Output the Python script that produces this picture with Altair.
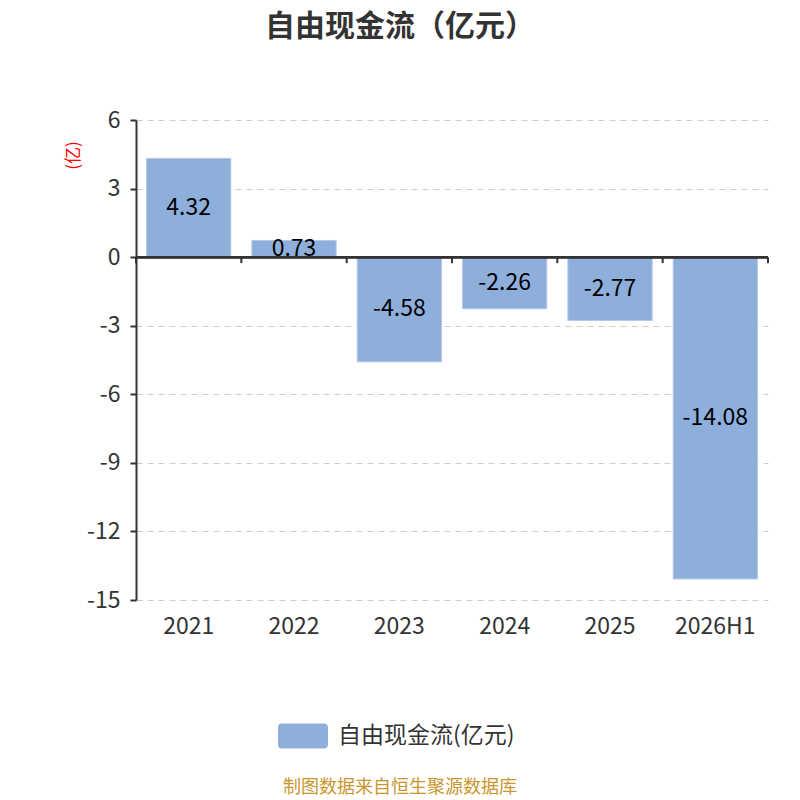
import altair as alt
import pandas as pd

categories = ["2021", "2022", "2023", "2024", "2025", "2026H1"]
values = [4.32, 0.73, -4.58, -2.26, -2.77, -14.08]
series_name = "自由现金流(亿元)"
y_ticks = [-15, -12, -9, -6, -3, 0, 3, 6]
title_text = "自由现金流（亿元）"
footer_text = "制图数据来自恒生聚源数据库"

FONT = "Noto Sans CJK SC"
BAR = "#8eaedb"

df = pd.DataFrame({"cat": categories, "value": values, "series": [series_name] * len(categories)})

xscale = alt.Scale(domain=categories, paddingInner=0, paddingOuter=0)
yscale = alt.Scale(domain=[-15, 6], nice=False, zero=False)

base = alt.Chart(df)

rounded_rect = ("M-0.84,-0.5 H0.84 Q1,-0.5 1,-0.34 V0.34 Q1,0.5 0.84,0.5 "
                "H-0.84 Q-1,0.5 -1,0.34 V-0.34 Q-1,-0.5 -0.84,-0.5 Z")

bars = base.mark_bar(width=alt.RelativeBandSize(0.8), stroke="#b3c8e8", strokeWidth=1).encode(
    x=alt.X("cat:N", scale=xscale, sort=categories, title=None,
            axis=alt.Axis(domain=False, ticks=False, labelAngle=0, labelFontSize=23,
                          labelColor="#333333", labelFont=FONT, labelPadding=15)),
    y=alt.Y("value:Q", scale=yscale, title="(亿)",
            axis=alt.Axis(values=y_ticks, labelFontSize=23, labelColor="#333333", labelFont=FONT,
                          labelExpr="replace(format(datum.value, 'd'), '\u2212', '-')",
                          domainColor="#333333", domainWidth=2, tickColor="#333333", tickWidth=2,
                          tickSize=6, labelPadding=10, gridColor="#cccccc", gridDash=[6, 5],
                          gridWidth=1.2, titleColor="#ff0000", titleFontSize=17,
                          titleFont=FONT, titleFontWeight="normal", titleAngle=-90,
                          titleX=-63, titleY=35, titleAlign="center", titleBaseline="middle")),
    color=alt.Color("series:N", scale=alt.Scale(domain=[series_name], range=[BAR]),
                    legend=alt.Legend(orient="none", legendX=142, legendY=591, title=None,
                                      symbolType=rounded_rect, symbolSize=2500,
                                      symbolStrokeWidth=0, labelFontSize=23, labelFont=FONT,
                                      labelColor="#333333", labelOffset=10, labelLimit=400)),
)

labels = base.mark_text(fontSize=23, font=FONT, color="#000000", baseline="middle").encode(
    x=alt.X("cat:N", scale=xscale, sort=categories),
    y=alt.Y("mid:Q", scale=yscale),
    text=alt.Text("lbl:N"),
).transform_calculate(
    mid="datum.value / 2",
    lbl="replace(format(datum.value, '.2f'), '\u2212', '-')",
)

zero_line = base.mark_rule(color="#333333", strokeWidth=2).encode(y=alt.datum(0))

ticks = base.mark_rule(color="#333333", strokeWidth=2, y2Offset=6).encode(
    x=alt.X("cat:N", scale=xscale, sort=categories, bandPosition=0),
    y=alt.datum(0),
    y2=alt.datum(0),
)
last_tick = base.transform_filter(alt.datum.cat == categories[-1]).mark_rule(
    color="#333333", strokeWidth=2, y2Offset=6).encode(
    x=alt.X("cat:N", scale=xscale, sort=categories, bandPosition=1),
    y=alt.datum(0),
    y2=alt.datum(0),
)

footer = alt.Chart(pd.DataFrame({"t": [footer_text]})).mark_text(
    fontSize=18, font=FONT, color="#c9962e", baseline="middle", align="center").encode(
    text="t:N", x=alt.value(264), y=alt.value(668))

chart = alt.layer(bars, labels, zero_line, ticks, last_tick, footer).properties(
    width=632, height=480,
    autosize=alt.AutoSizeParams(type="none"),
    padding={"left": 128, "top": 112, "right": 24, "bottom": 198},
    title=alt.TitleParams(title_text, fontSize=30, font=FONT, fontWeight="bold",
                          color="#333333", anchor="middle", dx=-52, offset=67),
).configure_view(stroke=None)

chart.save("out.html", embed_options={"renderer": "svg", "actions": False})
